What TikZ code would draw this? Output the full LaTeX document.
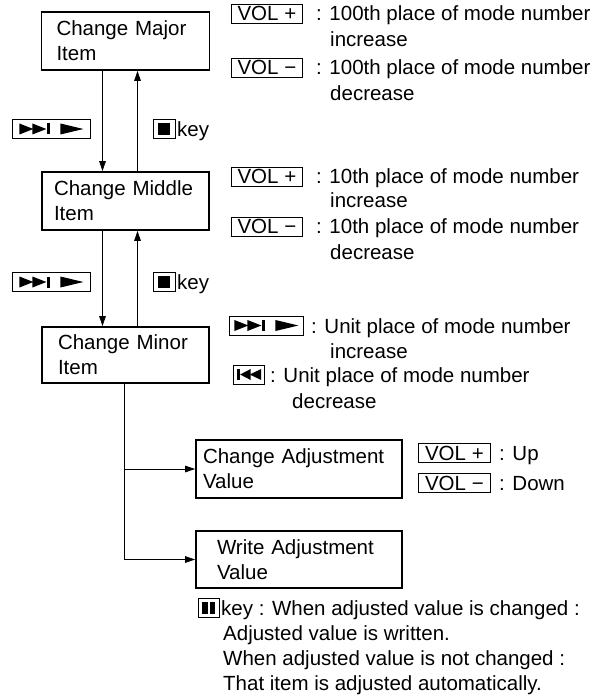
\documentclass[tikz,border=0pt]{standalone}
\usepackage{fontspec}
\setmainfont{Liberation Sans}
\usepackage{tikz}
\usetikzlibrary{arrows.meta}

\newcommand{\symNextPlay}{\tikz[x=1pt,y=1pt,baseline=0pt]{
    \fill (0,2) -- (14,7.5) -- (0,13) -- cycle;
    \fill (13,2) -- (27,7.5) -- (13,13) -- cycle;
    \fill (27.5,2) rectangle (31,13);
    \fill (41,2) -- (64,7.5) -- (41,13) -- cycle;}}
\newcommand{\symPrev}{\tikz[x=1pt,y=1pt,baseline=0pt]{
    \fill (0,2) rectangle (3.5,13);
    \fill (3.5,7.5) -- (14,13) -- (14,2) -- cycle;
    \fill (13,7.5) -- (24.5,13) -- (24.5,2) -- cycle;}}
\newcommand{\symStop}{\tikz[x=1pt,y=1pt,baseline=0pt]{\fill (0,1.5) rectangle (12,13.5);}}
\newcommand{\symPause}{\tikz[x=1pt,y=1pt,baseline=0pt]{
    \fill (0,1.5) rectangle (5.5,13.5);
    \fill (7.5,1.5) rectangle (13,13.5);}}

\tikzset{
    itembox/.style={draw, line width=1.6pt, align=left, inner ysep=0pt},
    keybox/.style={draw, line width=0.8pt, anchor=base west, text height=15pt, text depth=0pt,
        minimum height=19pt, inner xsep=4pt, inner ysep=0pt},
    desc/.style={anchor=base west, inner sep=0pt},
    flow/.style={line width=0.8pt, -{Triangle[length=10pt,width=6.5pt]}}
}

\begin{document}
\begin{tikzpicture}[x=1pt,y=-1pt,font=\fontsize{20.5}{25}\selectfont]
        \useasboundingbox (0,0) rectangle (604,700);

        % item boxes
        \node[itembox, text width=138pt, inner xsep=15pt, minimum height=58pt] (major) at (125.5,41) {Change Major\\Item};
        \node[itembox, text width=143pt, inner xsep=12pt, minimum height=58pt] (middle) at (125.5,201) {Change Middle\\Item};
        \node[itembox, text width=135pt, inner xsep=16pt, minimum height=56pt] (minor) at (125.5,355) {Change Minor\\Item};
        \node[itembox, text width=192pt, inner xsep=7pt, minimum height=58pt] (adjust) at (299,469) {Change Adjustment\\Value};
        \node[itembox, text width=164pt, inner xsep=21pt, minimum height=57pt] (write) at (299,559.5) {Write Adjustment\\Value};

        % arrows
        \draw[flow] ([xshift=-23pt]major.south) -- ([xshift=-23pt]middle.north);
        \draw[flow] ([xshift=12pt]middle.north) -- ([xshift=12pt]major.south);
        \draw[flow] ([xshift=-23pt]middle.south) -- ([xshift=-23pt]minor.north);
        \draw[flow] ([xshift=12pt]minor.north) -- ([xshift=12pt]middle.south);
        \draw[flow] ([xshift=-1.5pt]minor.south) |- (adjust.west);
        \draw[flow] ([xshift=-1.5pt]minor.south) |- (write.west);

        % keys between the boxes
        \node[keybox, minimum width=78pt] (fwdA) at (12,136.5) {\symNextPlay};
        \node[keybox, minimum width=22pt] (stopA) at (153,136.5) {\symStop};
        \node[desc] (stopAtxt) at (177,136.5) {key};
        \node[keybox, minimum width=78pt] (fwdB) at (12,289.5) {\symNextPlay};
        \node[keybox, minimum width=22pt] (stopB) at (153,289.5) {\symStop};
        \node[desc] (stopBtxt) at (177,289.5) {key};

        % major item
        \node[keybox, minimum width=71pt] (volupA) at (231,21) {VOL +};
        \node[desc] (volupAtxt) at (316,21) {: 100th place of mode number};
        \node[desc] (volupAmore) at (330,47) {increase};
        \node[keybox, minimum width=71pt] (voldnA) at (231,75) {VOL −};
        \node[desc] (voldnAtxt) at (316,75) {: 100th place of mode number};
        \node[desc] (voldnAmore) at (330,101) {decrease};

        % middle item
        \node[keybox, minimum width=71pt] (volupB) at (231,184) {VOL +};
        \node[desc] (volupBtxt) at (316,184) {: 10th place of mode number};
        \node[desc] (volupBmore) at (330,208) {increase};
        \node[keybox, minimum width=71pt] (voldnB) at (231,234) {VOL −};
        \node[desc] (voldnBtxt) at (316,234) {: 10th place of mode number};
        \node[desc] (voldnBmore) at (330,259) {decrease};

        % minor item
        \node[keybox, minimum width=74pt] (fwdC) at (229,333) {\symNextPlay};
        \node[desc] (fwdCtxt) at (311,333) {: Unit place of mode number};
        \node[desc] (fwdCmore) at (330,358) {increase};
        \node[keybox, minimum width=31pt, inner xsep=3pt] (prevC) at (233,382) {\symPrev};
        \node[desc] (prevCtxt) at (270,382) {: Unit place of mode number};
        \node[desc] (prevCmore) at (292,408) {decrease};

        % adjustment value
        \node[keybox, minimum width=72pt] (volupD) at (418,460) {VOL +};
        \node[desc] (volupDtxt) at (499,460) {: Up};
        \node[keybox, minimum width=72pt] (voldnD) at (418,490) {VOL −};
        \node[desc] (voldnDtxt) at (499,490) {: Down};

        % write
        \node[keybox, minimum width=21pt, inner xsep=3.5pt] (pauseE) at (198,615) {\symPause};
        \node[desc] (pauseEtxt) at (221,615) {key : When adjusted value is changed :};
        \node[desc] (pauseEline2) at (223,640) {Adjusted value is written.};
        \node[desc] (pauseEline3) at (223,665) {When adjusted value is not changed :};
        \node[desc] (pauseEline4) at (223,690) {That item is adjusted automatically.};
    \end{tikzpicture}
\end{document}
